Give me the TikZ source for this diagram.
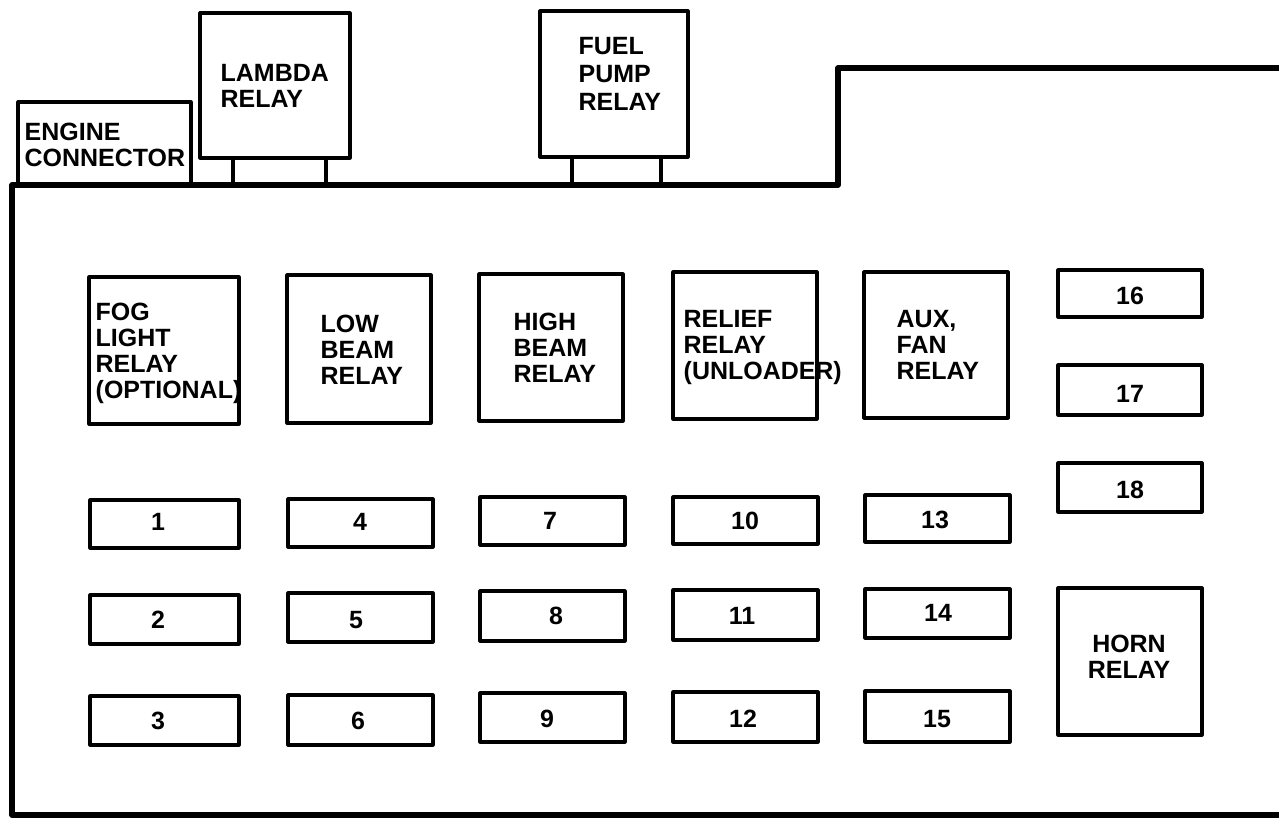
\documentclass[tikz,border=0pt]{standalone}
\usepackage{fontspec}
\setmainfont{Liberation Sans}
\usetikzlibrary{fit}
\begin{document}
\begin{tikzpicture}[x=0.01cm,y=-0.01cm,
  box/.style={draw, line width=0.9pt, inner sep=0pt, line join=round},
  lbl/.style={font=\fontsize{7.1}{7.4}\selectfont\bfseries, inner sep=0pt, align=left, anchor=north west},
  num/.style={font=\fontsize{7.1}{7.4}\selectfont\bfseries, inner sep=0pt},
  leg/.style={line width=0.9pt},
  housing/.style={line width=1.6pt, line join=round}]
\useasboundingbox (0,0) rectangle (1279,819);
% housing outline
\draw[housing] (1290,68) -- (838,68) -- (838,185) -- (12,185) -- (12,815) -- (1290,815);
% top components
\node[box, fit={(18,102) (191,185)}] (engine) {};
\node[lbl] (engineT) at (24,122) {ENGINE\\CONNECTOR};
\node[box, fit={(200,13) (350,158)}] (lambda) {};
\node[lbl] (lambdaT) at (220,64) {LAMBDA\\RELAY};
\node[box, fit={(540,11) (688,157)}] (fuel) {};
\node[lbl, font=\fontsize{7.1}{7.9}\selectfont\bfseries] (fuelT) at (578,37) {FUEL\\PUMP\\RELAY};
\coordinate (lb1) at (233,185); \coordinate (lb2) at (326,185);
\coordinate (fb1) at (572,185); \coordinate (fb2) at (661,185);
\draw[leg] (lambda.south -| lb1) -- (lb1);
\draw[leg] (lambda.south -| lb2) -- (lb2);
\draw[leg] (fuel.south -| fb1) -- (fb1);
\draw[leg] (fuel.south -| fb2) -- (fb2);
% relays row
\node[box, fit={(89,277) (239,424)}] (fog) {};
\node[lbl] (fogT) at (95,302) {FOG\\LIGHT\\RELAY\\(OPTIONAL)};
\node[box, fit={(287,275) (431,423)}] (low) {};
\node[lbl] (lowT) at (320,314) {LOW\\BEAM\\RELAY};
\node[box, fit={(479,274) (623,421)}] (high) {};
\node[lbl] (highT) at (513,312) {HIGH\\BEAM\\RELAY};
\node[box, fit={(673,272) (817,419)}] (relief) {};
\node[lbl] (reliefT) at (683,310) {RELIEF\\RELAY\\(UNLOADER)};
\node[box, fit={(864,272) (1008,418)}] (aux) {};
\node[lbl] (auxT) at (896,310) {AUX,\\FAN\\RELAY};
\node[box, fit={(1058,588) (1202,735)}] (horn) {};
\node[lbl, align=center, anchor=north] (hornT) at (1129,634) {HORN\\RELAY};
% fuses
\foreach \n/\xa/\ya/\xb/\yb/\tx/\ty in {
  1/90/500/239/548/158/522, 2/90/595/239/644/158/620, 3/90/696/239/745/158/721,
  4/288/499/433/547/360/522, 5/288/593/433/642/356/620, 6/288/695/433/745/358/721,
  7/480/497/625/545/550/521, 8/480/591/625/641/556/616, 9/480/693/625/742/547/719,
  10/673/497/818/544/745/521, 11/673/590/818/640/742/616, 12/673/692/818/742/743/719,
  13/865/495/1010/542/935/520, 14/865/589/1010/638/938/613, 15/865/691/1010/742/937/719,
  16/1058/270/1202/317/1130/296, 17/1058/365/1202/415/1130/394, 18/1058/463/1202/512/1130/490}{
  \node[box, fit={(\xa,\ya) (\xb,\yb)}] (fuse\n) {};
  \node[num] (fuse\n T) at (\tx,\ty) {\n};
}
\end{tikzpicture}
\end{document}
